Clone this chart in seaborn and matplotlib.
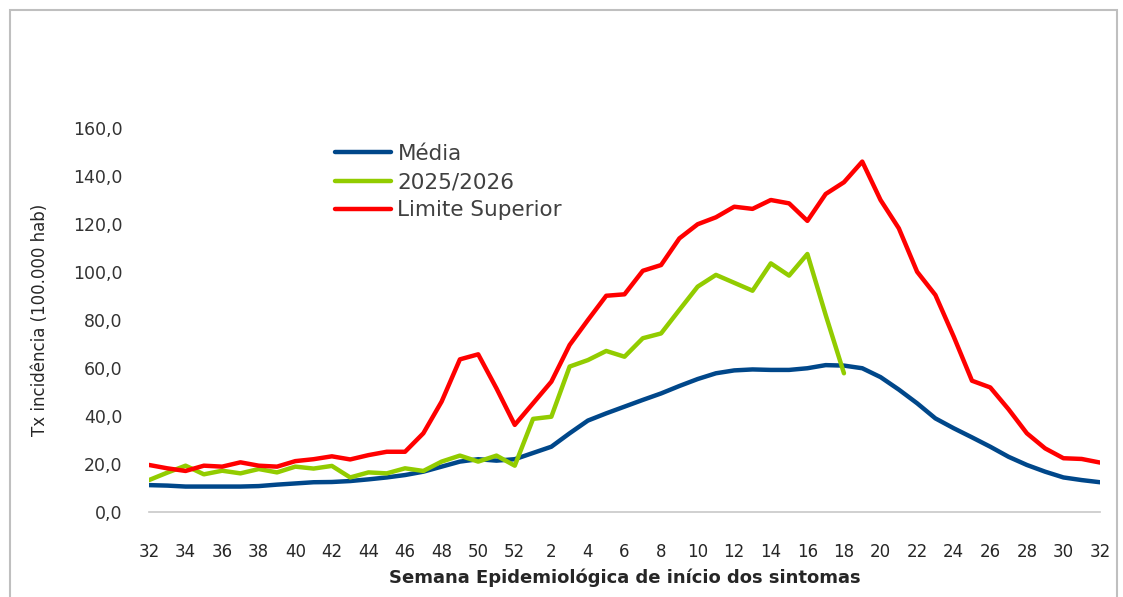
import numpy as np
import pandas as pd
import seaborn as sns
import matplotlib.pyplot as plt
from matplotlib.patches import Rectangle
from matplotlib.lines import Line2D

# Semanas epidemiologicas (32 de um ano ate 32 do seguinte)
semanas = [32, 33, 34, 35, 36, 37, 38, 39, 40, 41, 42, 43, 44, 45, 46, 47, 48, 49, 50, 51, 52,
           1, 2, 3, 4, 5, 6, 7, 8, 9, 10, 11, 12, 13, 14, 15, 16, 17, 18, 19, 20,
           21, 22, 23, 24, 25, 26, 27, 28, 29, 30, 31, 32]

media = [11.2, 11.0, 10.6, 10.6, 10.6, 10.6, 10.8, 11.4, 11.9, 12.4, 12.5,
         12.9, 13.6, 14.4, 15.4, 16.8, 18.9, 21.0, 22.0, 21.4, 22.0,
         24.6, 27.2, 32.8, 38.1, 41.1, 43.9, 46.7, 49.4, 52.5, 55.4,
         57.8, 59.0, 59.4, 59.2, 59.2, 59.9, 61.2, 61.0, 59.9, 56.2,
         51.0, 45.3, 39.0, 34.9, 31.1, 27.2, 23.0, 19.6, 16.8, 14.4, 13.3, 12.4]

temporada = [13.3, 16.4, 19.3, 15.7, 17.2, 16.1, 17.9, 16.5, 18.9, 18.1, 19.2,
             14.4, 16.5, 16.1, 18.2, 17.1, 21.0, 23.5, 21.0, 23.5, 19.3,
             38.8, 39.7, 60.6, 63.3, 67.1, 64.7, 72.4, 74.4, 84.2, 93.9,
             98.8, 95.5, 92.2, 103.6, 98.5, 107.5, 82.1, 57.8]

limite_sup = [19.6, 18.2, 17.1, 19.3, 18.9, 20.7, 19.3, 18.9, 21.2, 22.0, 23.2,
              21.9, 23.7, 25.1, 25.1, 32.8, 46.0, 63.6, 65.7, 51.5, 36.3,
              45.3, 54.3, 69.6, 80.0, 90.1, 90.7, 100.5, 102.9, 114.0, 119.9,
              122.8, 127.2, 126.3, 130.0, 128.6, 121.3, 132.5, 137.4, 146.0, 130.0,
              118.2, 100.1, 90.4, 73.1, 54.7, 51.9, 42.8, 32.8, 26.5, 22.4, 22.1, 20.6]

series = ["Média", "2025/2026", "Limite Superior"]
cores = ["#00478a", "#92cc00", "#ff0000"]

pos = np.arange(len(semanas))
df = pd.concat([
    pd.DataFrame({"pos": pos, "valor": media, "serie": series[0]}),
    pd.DataFrame({"pos": pos[:len(temporada)], "valor": temporada, "serie": series[1]}),
    pd.DataFrame({"pos": pos, "valor": limite_sup, "serie": series[2]}),
])

sns.set_theme(style="white")
plt.rcParams['font.family'] = ['DejaVu Sans']

fig = plt.figure(figsize=(11.23, 5.97), dpi=100)
ax = fig.add_axes([149 / 1123, 85 / 597, 951 / 1123, 384 / 597])

sns.lineplot(data=df, x="pos", y="valor", hue="serie", hue_order=series,
             palette=cores, linewidth=3.2, legend=False, ax=ax)

ax.set_xlim(0, len(semanas) - 1)
ax.set_ylim(0, 160)
ax.set_yticks(np.arange(0, 161, 20))
ax.set_yticklabels([f"{v:.1f}".replace(".", ",") for v in np.arange(0, 161, 20)],
                   fontsize=12.5, color="#333333")
ax.set_xticks(pos[::2])
ax.set_xticklabels([str(s) for s in semanas[::2]], fontsize=12, color="#262626")
ax.tick_params(axis="y", length=0, pad=19)
ax.tick_params(axis="x", length=0, pad=22)

for s in ["top", "right", "left"]:
    ax.spines[s].set_visible(False)
ax.spines["bottom"].set_color("#c8c8c8")
ax.spines["bottom"].set_linewidth(1.2)

ax.set_xlabel("Semana Epidemiológica de início dos sintomas", fontsize=13,
              fontweight="bold", color="#262626", labelpad=6)
ax.set_ylabel("Tx incidência (100.000 hab)", fontsize=12, color="#262626", labelpad=17)

handles = [Line2D([], [], color=c, linewidth=3.2) for c in cores]
ax.legend(handles, series, loc="upper left", bbox_to_anchor=(335 / 1123, 1 - 144 / 597),
          bbox_transform=fig.transFigure, frameon=False, fontsize=15.5,
          handlelength=2.6, handletextpad=0.3, labelspacing=0.38,
          borderpad=0, borderaxespad=0, labelcolor="#404040")

fig.patches.append(Rectangle((10 / 1123, -0.05), 1107 / 1123, 1.05 - 10 / 597,
                             transform=fig.transFigure, fill=False,
                             edgecolor="#bfbfbf", linewidth=1.5))

fig.savefig("out.png", dpi=100)
